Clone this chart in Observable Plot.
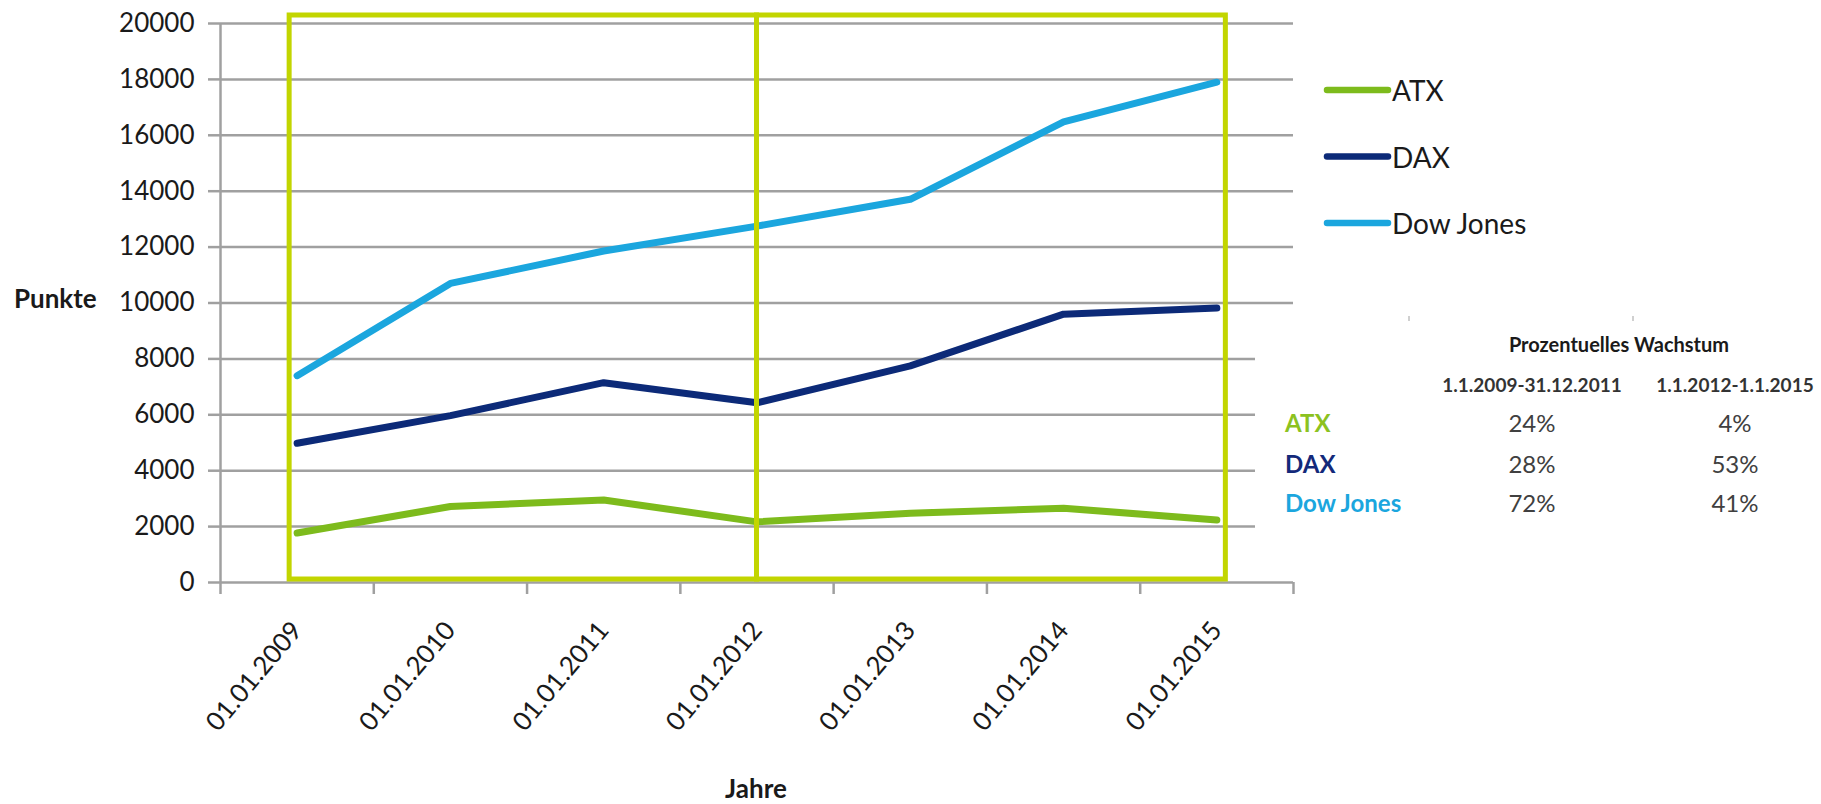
<!DOCTYPE html>
<html>
<head>
<meta charset="utf-8">
<script src="https://cdn.jsdelivr.net/npm/d3@7"></script>
<script src="https://cdn.jsdelivr.net/npm/@observablehq/plot@0.6"></script>
<style>
  body { margin: 0; background: #fff; }
  #chart { width: 1821px; height: 804px; }
  svg text { font-family: Lato, "Open Sans", sans-serif; }
</style>
</head>
<body>
<div id="chart"></div>
<script>
// ---- data ----
const dates = ["01.01.2009", "01.01.2010", "01.01.2011", "01.01.2012", "01.01.2013", "01.01.2014", "01.01.2015"];
const atx = [1770, 2720, 2950, 2170, 2480, 2660, 2240];
const dax = [4980, 5970, 7150, 6430, 7750, 9600, 9820];
const dow = [7400, 10700, 11860, 12750, 13710, 16480, 17900];
const seriesNames = ["ATX", "DAX", "Dow Jones"];
const seriesColors = ["#7dbb1c", "#0c2a78", "#1ba6de"];
const labelColors = ["#8cc21f", "#13297a", "#1ba6de"];
const yTicks = d3.range(0, 20001, 2000);
const periods = [
  { label: "1.1.2009-31.12.2011", start: "01.01.2009", end: "01.01.2012" },
  { label: "1.1.2012-1.1.2015", start: "01.01.2012", end: "01.01.2015" }
];
const growthTitle = "Prozentuelles Wachstum";
const growthATX = ["24%", "4%"];
const growthDAX = ["28%", "53%"];
const growthDow = ["72%", "41%"];
const yLabel = "Punkte";
const xLabel = "Jahre";

// ---- build table ----
const seriesValues = [atx, dax, dow];
const rows = [];
dates.forEach((d, i) => {
  seriesNames.forEach((s, k) => rows.push({ i, date: d, series: s, value: seriesValues[k][i] }));
});
const growth = [growthATX, growthDAX, growthDow];
const idx = d => dates.indexOf(d);

const grey = "#a0a0a0";
const W = 1821, H = 804;
const mL = 220, mR = W - 1293, mT = 23, mB = H - 582;

const svg = Plot.plot({
  width: W, height: H,
  marginLeft: mL, marginRight: mR, marginTop: mT, marginBottom: mB,
  style: { fontFamily: "Lato, 'Open Sans', sans-serif", background: "#fff" },
  x: { type: "linear", domain: [-0.5, dates.length - 0.5], label: null },
  y: { domain: [0, 20000], label: null },
  color: { domain: seriesNames, range: seriesColors },
  marks: [
    Plot.gridY(yTicks, { stroke: grey, strokeOpacity: 1, strokeWidth: 2.5 }),
    Plot.axisY(yTicks, { tickSize: 12, tickPadding: 14, fontSize: 26, stroke: grey, strokeWidth: 2.5, fill: "#1a1a1a", tickFormat: d => String(d), label: null }),
    Plot.ruleX([-0.5], { y1: 0, y2: 20000, stroke: grey, strokeWidth: 2.5 }),
    Plot.axisX(d3.range(-0.5, dates.length, 1), { tickSize: 12, tickFormat: () => "", stroke: grey, strokeWidth: 2.5, label: null }),
    Plot.axisX(d3.range(0, dates.length), { tickSize: 0, tickPadding: 43, tickRotate: -50, fontSize: 26, fill: "#1a1a1a", tickFormat: i => dates[i], label: null }),
    Plot.line(rows, { x: "i", y: "value", z: "series", stroke: "series", strokeWidth: 7, strokeLinejoin: "round", strokeLinecap: "round" }),
    Plot.rect([periods[0]], { x1: d => idx(d.start), x2: d => idx(d.end), y1: 0, y2: 20000, fill: "none", stroke: "#c2d500", strokeWidth: 5, insetLeft: -7.5, insetRight: 0, insetTop: -8, insetBottom: 3 }),
    Plot.rect([periods[1]], { x1: d => idx(d.start), x2: d => idx(d.end), y1: 0, y2: 20000, fill: "none", stroke: "#c2d500", strokeWidth: 5, insetLeft: 0, insetRight: -9, insetTop: -8, insetBottom: 3 })
  ]
});

const s = d3.select(svg);
const font = "Lato, 'Open Sans', sans-serif";

// axis titles
s.append("text").attr("x", 14).attr("y", 308).attr("text-anchor", "start").attr("font-size", 26).attr("font-weight", "bold")
  .attr("fill", "#1a1a1a").attr("font-family", font).text(yLabel);
s.append("text").attr("x", 756).attr("y", 798).attr("text-anchor", "middle").attr("font-size", 26).attr("font-weight", "bold")
  .attr("fill", "#1a1a1a").attr("font-family", font).text(xLabel);

// legend
const lg = s.append("g");
seriesNames.forEach((name, k) => {
  const y = 90 + k * 66.5;
  lg.append("line").attr("x1", 1327).attr("x2", 1388).attr("y1", y).attr("y2", y)
    .attr("stroke", seriesColors[k]).attr("stroke-width", 6.5).attr("stroke-linecap", "round");
  lg.append("text").attr("x", 1392).attr("y", y + 11).attr("text-anchor", "start").attr("font-size", 28).attr("fill", "#1a1a1a")
    .attr("font-family", font).text(name);
});

// growth table (overlay)
const tb = s.append("g");
tb.append("rect").attr("x", 1255).attr("y", 314).attr("width", W - 1255).attr("height", 256).attr("fill", "#fff");
[1408, 1632].forEach(x => tb.append("rect").attr("x", x).attr("y", 316).attr("width", 2).attr("height", 5).attr("fill", "#d0d0d0"));
tb.append("text").attr("x", 1619).attr("y", 352).attr("text-anchor", "middle").attr("font-size", 20).attr("font-weight", "bold")
  .attr("fill", "#1a1a1a").attr("font-family", font).text(growthTitle);
const colX = [1532, 1735];
periods.forEach((p, j) => {
  tb.append("text").attr("x", colX[j]).attr("y", 392).attr("text-anchor", "middle").attr("font-size", 19).attr("font-weight", "bold")
    .attr("fill", "#333").attr("font-family", font).text(p.label);
});
const rowY = [432, 473, 512];
seriesNames.forEach((name, k) => {
  tb.append("text").attr("x", 1285).attr("y", rowY[k]).attr("text-anchor", "start").attr("font-size", 24).attr("font-weight", "bold")
    .attr("fill", labelColors[k]).attr("font-family", font).text(name);
  growth[k].forEach((v, j) => {
    tb.append("text").attr("x", colX[j]).attr("y", rowY[k]).attr("text-anchor", "middle").attr("font-size", 24)
      .attr("fill", "#404040").attr("font-family", font).text(v);
  });
});

document.getElementById("chart").appendChild(svg);
</script>
</body>
</html>
